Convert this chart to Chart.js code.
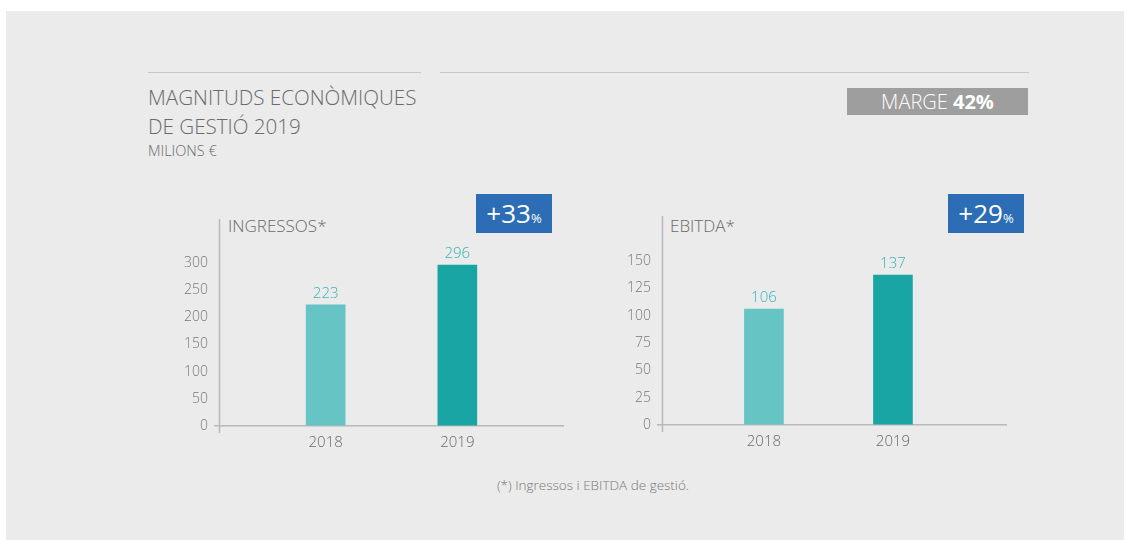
<!DOCTYPE html>
<html>
<head>
<meta charset="utf-8">
<script src="https://cdn.jsdelivr.net/npm/chart.js@4"></script>
<style>
  body { margin: 0; width: 1130px; height: 540px; background: #fff; position: relative; overflow: hidden; font-family: "Open Sans", sans-serif; font-weight: 300; color: #6a6a6a; }
  .panel { position: absolute; left: 6px; top: 11px; width: 1118px; height: 529px; background: #ebebeb; }
  .abs { position: absolute; white-space: nowrap; }
  .rule { position: absolute; height: 0; border-top: 1.5px solid #c6c6c6; }
  .badge { position: absolute; background: #2c6db5; color: #fff; text-align: center; font-weight: 400; }
  .badge b { font-size: 26px; font-weight: 400; }
  .badge small { font-size: 13px; }
  canvas { position: absolute; }
</style>
</head>
<body>
<div class="panel"></div>
<div class="rule" style="left:148px;top:72px;width:273px"></div>
<div class="rule" style="left:440px;top:72px;width:589px"></div>
<div class="abs" style="left:148px;top:83px;font-size:20.6px;line-height:29px">MAGNITUDS ECONÒMIQUES<br>DE GESTIÓ 2019</div>
<div class="abs" style="left:148px;top:141px;font-size:14.5px">MILIONS €</div>
<div class="abs" style="left:847px;top:88px;width:181px;height:27px;line-height:27px;background:#9e9e9e;color:#fff;text-align:center;font-size:20px">MARGE <span style="font-weight:700">42%</span></div>

<div class="abs" style="left:228px;top:214px;font-size:17px">INGRESSOS*</div>
<div class="abs" style="left:670px;top:214px;font-size:17px">EBITDA*</div>
<div class="badge" style="left:476px;top:194px;width:76px;height:39px;line-height:39px"><b>+33</b><small>%</small></div>
<div class="badge" style="left:948px;top:194px;width:76px;height:39px;line-height:39px"><b>+29</b><small>%</small></div>

<canvas id="c1" width="420" height="260" style="left:150px;top:200px;width:420px;height:260px"></canvas>
<canvas id="c2" width="430" height="260" style="left:590px;top:200px;width:430px;height:260px"></canvas>

<div class="abs" style="left:0;width:1186px;top:476px;text-align:center;font-size:13.5px;color:#777">(*) Ingressos i EBITDA de gestió.</div>

<script>
const years = ['2018', '2019'];
const ingressos = [223, 296];
const ebitda = [106, 137];
const ingressosTicks = [0, 50, 100, 150, 200, 250, 300];
const ebitdaTicks = [0, 25, 50, 75, 100, 125, 150];
const barColors = ['#67c4c5', '#1aa5a5'];

const axisLine = {
  id: 'axisLine',
  afterDraw(chart) {
    const a = chart.chartArea, ctx = chart.ctx;
    ctx.save();
    ctx.strokeStyle = '#b8b8b8';
    ctx.lineWidth = 1.5;
    ctx.beginPath();
    ctx.moveTo(a.left + 0.5, a.top);
    ctx.lineTo(a.left + 0.5, a.bottom + 7);
    ctx.stroke();
    ctx.restore();
  }
};

const valueLabels = {
  id: 'valueLabels',
  afterDatasetsDraw(chart) {
    const ctx = chart.ctx;
    const ds = chart.data.datasets[0];
    ctx.save();
    ctx.fillStyle = '#3ab3b5';
    ctx.font = '300 15px "Open Sans", sans-serif';
    ctx.textAlign = 'center';
    ctx.textBaseline = 'bottom';
    chart.getDatasetMeta(0).data.forEach((bar, i) => {
      ctx.fillText(ds.data[i].y, bar.x, bar.y - 4);
    });
    ctx.restore();
  }
};

function makeChart(id, values, ticks, yMax, xMin, xMax, yWidth, pad) {
  return new Chart(document.getElementById(id), {
    type: 'bar',
    data: {
      datasets: [{
        data: values.map((v, i) => ({ x: i, y: v })),
        backgroundColor: barColors,
        barThickness: 39,
        borderWidth: 0
      }]
    },
    options: {
      responsive: false,
      animation: false,
      layout: { padding: pad },
      plugins: { legend: { display: false }, tooltip: { enabled: false } },
      scales: {
        x: {
          type: 'linear', min: xMin, max: xMax, offset: false, bounds: 'data',
          afterBuildTicks: s => { s.ticks = years.map((y, i) => ({ value: i })); },
          afterFit: s => { s.height = pad.xh; },
          ticks: { callback: v => years[v], color: '#6a6a6a', font: { family: 'Open Sans', size: 15, weight: 300 }, padding: 0 },
          grid: { display: false, offset: false },
          border: { display: false }
        },
        y: {
          min: 0, max: yMax,
          afterBuildTicks: s => { s.ticks = ticks.map(v => ({ value: v })); },
          afterFit: s => { s.width = yWidth; },
          ticks: { color: '#777', font: { family: 'Open Sans', size: 14, weight: 300 }, padding: 6 },
          grid: {
            color: c => c.tick && c.tick.value === 0 ? '#b8b8b8' : 'rgba(0,0,0,0)',
            lineWidth: 1.5,
            tickLength: 5
          },
          border: { display: false }
        }
      }
    },
    plugins: [axisLine, valueLabels]
  });
}

makeChart('c1', ingressos, ingressosTicks, 381, -0.81, 1.81, 69, { top: 19, right: 6, left: 0, bottom: 0, xh: 34 });
makeChart('c2', ebitda, ebitdaTicks, 191, -0.79, 1.884, 72, { top: 16, right: 13, left: 0, bottom: 0, xh: 35 });
</script>
</body>
</html>
